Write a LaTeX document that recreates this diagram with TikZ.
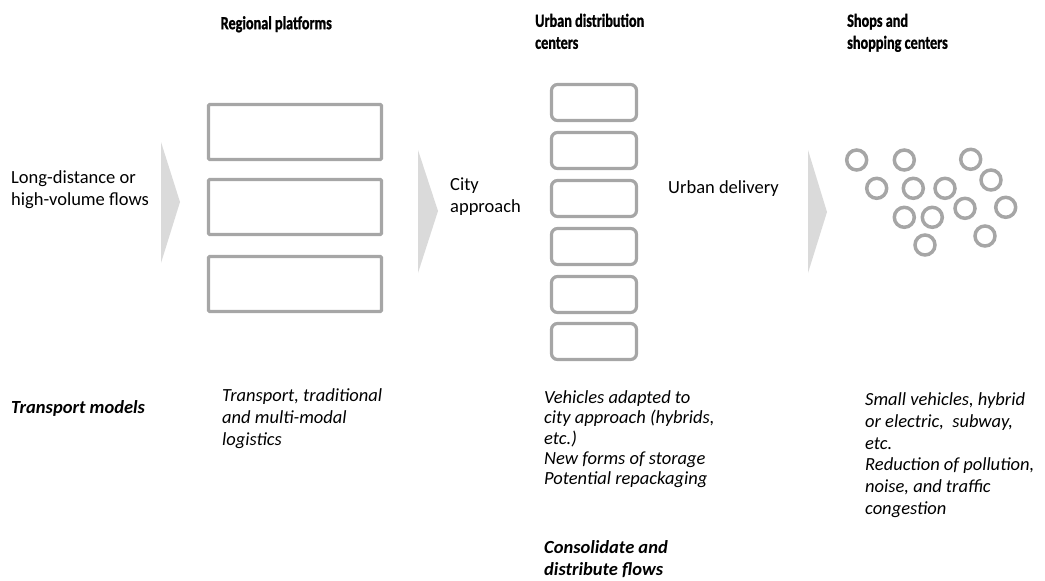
\documentclass[tikz,border=0pt]{standalone}
\usepackage{fontspec}
\setmainfont{Carlito}
\newfontfamily\headfont[FakeStretch=0.77,BoldFeatures={FakeBold=1.2}]{Carlito}
\usetikzlibrary{positioning}
\definecolor{boxgray}{HTML}{A6A6A6}
\definecolor{chevgray}{HTML}{DADADA}
\tikzset{
  txt/.style={anchor=north west, inner sep=0pt, align=left, font=\fontsize{18.5}{22}\selectfont, execute at begin node=\strut},
  headtxt/.style={txt, font=\fontsize{18.5}{22}\selectfont\headfont\bfseries},
  ittxt/.style={txt, font=\fontsize{18.5}{22}\selectfont\itshape},
  bitxt/.style={txt, font=\fontsize{18.5}{22}\selectfont\bfseries\itshape},
  chev/.style={fill=chevgray, draw=none},
  platform/.style={draw=boxgray, line width=3.2pt, rounded corners=1.2pt, minimum width=173pt, minimum height=55pt, inner sep=0pt},
  udc/.style={draw=boxgray, line width=3.2pt, rounded corners=6pt, minimum width=85pt, minimum height=36pt, inner sep=0pt},
  shop/.style={draw=boxgray, line width=3.5pt, circle, minimum size=20pt, inner sep=0pt},
}
\begin{document}
\begin{tikzpicture}[x=1pt, y=-1pt]
\useasboundingbox (0,0) rectangle (1045,581);
% headings
\node[headtxt] (h1) at (220.5,13.6) {Regional platforms};
\node[headtxt] (h2) at (535,13.6) {Urban distribution\\centers};
\node[headtxt] (h3) at (847,13.6) {Shops and\\shopping centers};
% chevrons
\coordinate (c1a) at (161,142); \coordinate (c1b) at (180,202); \coordinate (c1c) at (161,263);
\fill[chev] (c1a) -- (c1b) -- (c1c) -- cycle;
\coordinate (c2a) at (418,150); \coordinate (c2b) at (438,211); \coordinate (c2c) at (418,273);
\fill[chev] (c2a) -- (c2b) -- (c2c) -- cycle;
\coordinate (c3a) at (808,150); \coordinate (c3b) at (827,212); \coordinate (c3c) at (808,273);
\fill[chev] (c3a) -- (c3b) -- (c3c) -- cycle;
% flow labels
\node[txt] (flows) at (11,170.6) {Long-distance or\\high-volume flows};
\node[txt] (city) at (450,177.6) {City\\approach};
\node[txt] (urbdel) at (668,177.6) {Urban delivery};
% regional platforms
\node[platform] (p1) at (295,132) {};
\node[platform] (p2) at (295,207) {};
\node[platform] (p3) at (295,284) {};
% urban distribution centers
\foreach \i/\y in {1/102.5,2/150.5,3/198.5,4/246.5,5/294.5,6/341.5}
  \node[udc] (u\i) at (594,\y) {};
% shops
\foreach \i/\x/\y in {1/856.7/160,2/904.3/160,3/970.7/159.3,4/876.7/188.3,5/913.3/188.3,6/945/188.3,7/991/180,8/965/208.3,9/1005.7/207.3,10/904.3/217.3,11/932.3/217.3,12/925/245,13/985/236}
  \node[shop] (s\i) at (\x,\y) {};
% bottom texts
\node[bitxt] (tm) at (11,397.6) {Transport models};
\node[ittxt] (t1) at (222,388.6) {Transport, traditional\\and multi-modal\\logistics};
\node[ittxt, font=\fontsize{18.5}{20.3}\selectfont\itshape] (t2) at (544,390.6) {Vehicles adapted to\\city approach (hybrids,\\etc.)\\New forms of storage\\Potential repackaging};
\node[bitxt] (t3) at (544,540.6) {Consolidate and\\distribute flows};
\node[ittxt, font=\fontsize{18.5}{21.7}\selectfont\itshape] (t4) at (865,392.6) {Small vehicles, hybrid\\or electric,\ \ subway,\\etc.\\Reduction of pollution,\\noise, and traffic\\congestion};
\end{tikzpicture}
\end{document}
